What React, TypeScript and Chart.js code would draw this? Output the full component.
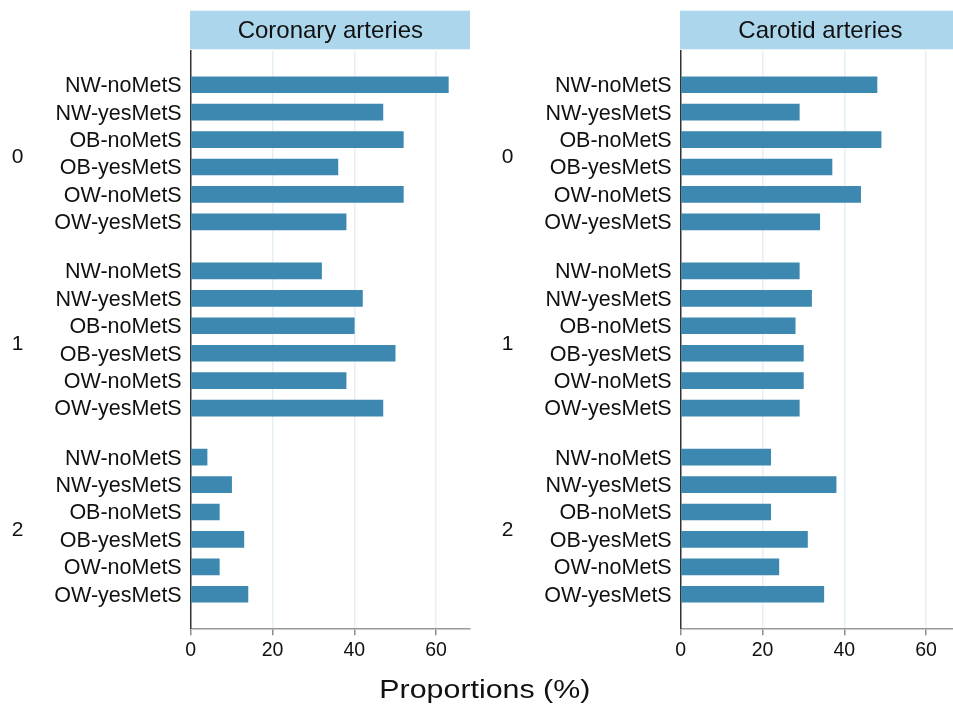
import React, { useEffect, useRef } from "react";
import { Chart, registerables } from "chart.js";

Chart.register(...registerables);

// ---- data ----
const CATEGORIES = ["NW-noMetS", "NW-yesMetS", "OB-noMetS", "OB-yesMetS", "OW-noMetS", "OW-yesMetS"];
const GROUPS = ["0", "1", "2"];
const CORONARY_G0 = [63, 47, 52, 36, 52, 38];
const CORONARY_G1 = [32, 42, 40, 50, 38, 47];
const CORONARY_G2 = [4, 10, 7, 13, 7, 14];
const CAROTID_G0 = [48, 29, 49, 37, 44, 34];
const CAROTID_G1 = [29, 32, 28, 30, 30, 29];
const CAROTID_G2 = [22, 38, 22, 31, 24, 35];
const X_TICKS = [0, 20, 40, 60];
const X_MAX = 68.3;
const PANEL_TITLES = ["Coronary arteries", "Carotid arteries"];
const AXIS_TITLE = "Proportions (%)";

// ---- style ----
const FONT = "'Liberation Sans', Arial, Helvetica, sans-serif";
const BAR_COLOR = "#3c88b0";
const HEADER_BG = "#acd6ec";
const TEXT_COLOR = "#111111";
const GROUP_GAP = 0.79; // extra space between groups, in row units
const EDGE_PAD = 1.24; // space above first and below last row, in row units

type PanelProps = {
  title: string;
  groups: number[][];
  left: number;
  width: number;
  axisWidth: number;
  padRight: number;
};

function Panel({ title, groups, left, width, axisWidth, padRight }: PanelProps) {
  const ref = useRef<HTMLCanvasElement | null>(null);

  useEffect(() => {
    if (!ref.current) return;
    const stride = CATEGORIES.length + GROUP_GAP;
    const rows: { pos: number; label: string; value: number }[] = [];
    groups.forEach((vals, g) => {
      vals.forEach((v, i) => {
        rows.push({ pos: g * stride + i, label: CATEGORIES[i], value: v });
      });
    });
    const yMin = -EDGE_PAD;
    const yMax = (groups.length - 1) * stride + (CATEGORIES.length - 1) + EDGE_PAD;

    const headerPlugin = {
      id: "panelHeader",
      afterDraw(chart: any) {
        const { ctx, chartArea } = chart;
        const { left: l, right: r, top: t } = chartArea;
        ctx.save();
        ctx.fillStyle = HEADER_BG;
        ctx.fillRect(l - 0.7, t - 40, r - l + 0.7, 38.6);
        ctx.fillStyle = TEXT_COLOR;
        ctx.font = `24px ${FONT}`;
        ctx.textAlign = "center";
        ctx.textBaseline = "alphabetic";
        ctx.fillText(title, (l + r) / 2, t - 40 + 19.3 + 8.4);
        // group labels
        const ys = chart.scales.y;
        ctx.font = `21px ${FONT}`;
        GROUPS.forEach((gl, g) => {
          const c = ys.getPixelForValue(g * stride + (CATEGORIES.length - 1) / 2);
          ctx.fillText(gl, l - 173.2, c + 2.5 + 7.5);
        });
        ctx.restore();
      },
    };

    const chart = new Chart(ref.current, {
      type: "bar",
      data: {
        datasets: [
          {
            data: rows.map((r) => ({ x: r.value, y: r.pos })),
            backgroundColor: BAR_COLOR,
            borderWidth: 0,
            barThickness: 16,
          } as any,
        ],
      },
      options: {
        indexAxis: "y",
        animation: false,
        responsive: false,
        maintainAspectRatio: false,
        devicePixelRatio: 1,
        layout: { padding: { top: 50.7, right: padRight, left: 0, bottom: 0 } },
        plugins: {
          legend: { display: false },
          tooltip: { enabled: false },
          title: { display: false },
        },
        scales: {
          x: {
            type: "linear",
            position: "bottom",
            min: 0,
            max: X_MAX,
            afterBuildTicks: (s: any) => {
              s.ticks = X_TICKS.map((v) => ({ value: v }));
            },
            afterFit: (s: any) => {
              s.height = 76.7;
            },
            grid: {
              color: (c: any) => (c.tick && c.tick.value === 0 ? "rgba(0,0,0,0)" : "#e4f0f6"),
              lineWidth: 1.5,
              drawTicks: true,
              tickLength: 7,
              tickWidth: 1.5,
              tickColor: "#8a8a8a",
            },
            border: { display: true, color: "#9a9a9a", width: 1.5 },
            ticks: {
              font: { family: FONT, size: 19.5 },
              color: TEXT_COLOR,
              padding: 4,
              maxRotation: 0,
              autoSkip: false,
            },
          },
          y: {
            type: "linear",
            reverse: true,
            offset: false,
            min: yMin,
            max: yMax,
            afterBuildTicks: (s: any) => {
              s.ticks = rows.map((r) => ({ value: r.pos }));
            },
            afterFit: (s: any) => {
              s.width = axisWidth;
            },
            grid: { display: false, drawTicks: false, offset: false },
            border: { display: true, color: "#333333", width: 1.5 },
            ticks: {
              autoSkip: false,
              font: { family: FONT, size: 21.5 },
              color: TEXT_COLOR,
              padding: 9,
              labelOffset: 1.5,
              callback: (_v: any, i: number) => (rows[i] ? rows[i].label : ""),
            },
          },
        },
      } as any,
      plugins: [headerPlugin],
    });
    return () => chart.destroy();
  }, [title, groups, axisWidth, padRight]);

  return (
    <canvas
      ref={ref}
      width={width}
      height={705}
      style={{ position: "absolute", left, top: 0, width, height: 705 }}
    />
  );
}

const CORONARY = [CORONARY_G0, CORONARY_G1, CORONARY_G2];
const CAROTID = [CAROTID_G0, CAROTID_G1, CAROTID_G2];

export default function App() {
  return (
    <div
      style={{
        position: "fixed",
        left: 0,
        top: 0,
        width: 953,
        height: 705,
        overflow: "hidden",
        background: "#ffffff",
      }}
    >
      <Panel title={PANEL_TITLES[0]} groups={CORONARY} left={0} width={480} axisWidth={190.7} padRight={10} />
      <Panel title={PANEL_TITLES[1]} groups={CAROTID} left={480} width={490} axisWidth={200.7} padRight={10} />
      <div
        style={{
          position: "absolute",
          left: 0,
          width: 969,
          top: 677,
          textAlign: "center",
          fontFamily: FONT,
          fontSize: 25,
          lineHeight: "25px",
          color: TEXT_COLOR,
          whiteSpace: "nowrap",
        }}
      >
        <span style={{ display: "inline-block", transform: "scaleX(1.215)" }}>{AXIS_TITLE}</span>
      </div>
    </div>
  );
}
